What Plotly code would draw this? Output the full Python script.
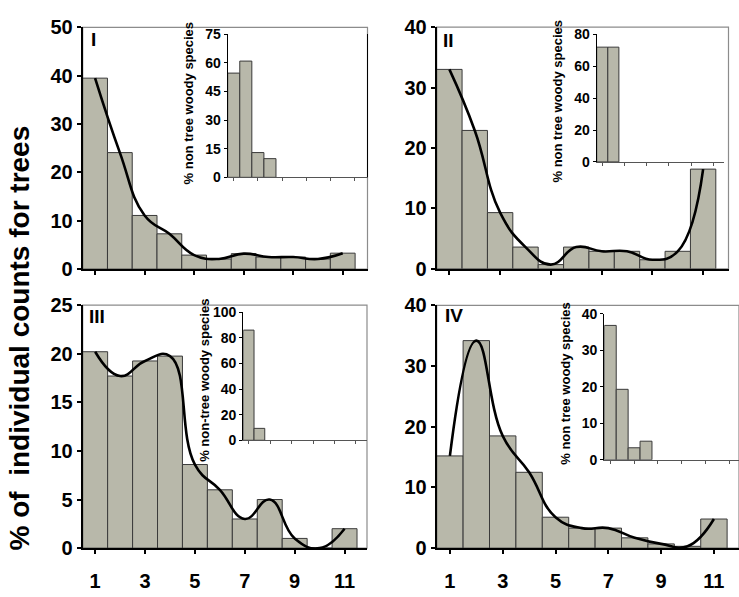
import plotly.graph_objects as go

W, H = 739, 597

categories = list(range(1, 12))
tick_vals = [1, 3, 5, 7, 9, 11]

# main panels: % of individual counts for trees
panel_I = [39.5, 24.1, 11.1, 7.3, 2.9, 2.1, 3.2, 2.5, 2.5, 2.1, 3.3]
panel_II = [33.0, 22.9, 9.3, 3.6, 0.7, 3.6, 2.9, 2.9, 1.5, 2.9, 16.5]
panel_III = [20.2, 17.7, 19.25, 19.75, 8.6, 6.0, 3.0, 5.0, 1.0, 0.0, 2.0]
panel_IV = [15.2, 34.2, 18.5, 12.5, 5.1, 3.3, 3.3, 1.7, 0.7, 0.3, 4.8]

# insets: % non tree woody species
inset_I_cats = [1, 2, 3, 4]
inset_I = [54.7, 61.0, 13.0, 9.8]
inset_II_cats = [1, 2]
inset_II = [72.0, 72.0]
inset_III_cats = [1, 2]
inset_III = [86.0, 9.3]
inset_IV_cats = [1, 2, 3, 4]
inset_IV = [36.8, 19.3, 3.3, 5.1]

BAR = "#b8b8aa"
EDGE = "#3a3a3a"
FONT = "Liberation Sans"


def px_x(x):
    return x / W


def px_y(y):
    return 1 - y / H


fig = go.Figure()

mains = [
    ("", panel_I, (82.7, 367.5), (17.0, 268.0), [0.5, 12.0], [0, 50], 10, False),
    ("2", panel_II, (436.7, 728.5), (16.7, 267.7), [0.5, 12.0], [0, 40], 10, False),
    ("3", panel_III, (82.7, 367.0), (305.3, 557.7), [0.5, 11.9], [0, 25], 5, True),
    ("4", panel_IV, (436.7, 739.0), (305.7, 557.7), [0.5, 11.95], [0, 40], 10, True),
]
insets = [
    ("5", inset_I_cats, inset_I, (227.7, 366.5), (24.3, 172.7), [0.5, 12.0], [0, 75], 15, True),
    ("6", inset_II_cats, inset_II, (596.7, 724.3), (24.3, 156.7), [0.5, 12.0], [0, 80], 20, False),
    ("7", inset_III_cats, inset_III, (243.3, 366.7), (312.7, 445.7), [0.5, 12.0], [0, 100], 20, False),
    ("8", inset_IV_cats, inset_IV, (604.3, 739.0), (314.3, 466.0), [0.5, 11.8], [0, 40], 10, False),
]

layout = dict(
    width=W, height=H, margin=dict(l=0, r=0, t=0, b=0),
    paper_bgcolor="white", plot_bgcolor="rgba(0,0,0,0)",
    showlegend=False,
    font=dict(family=FONT, color="black"),
)
shapes = []

for key, vals, (x0, x1), (yt, yb), xr, yr, dt, labels in mains:
    xa, ya = "x" + key, "y" + key
    fig.add_trace(go.Bar(x=categories, y=vals, width=1, xaxis=xa, yaxis=ya,
                         marker=dict(color=BAR, line=dict(color=EDGE, width=1))))
    fig.add_trace(go.Scatter(x=categories, y=vals, mode="lines", xaxis=xa, yaxis=ya,
                             line=dict(color="black", width=2.6, shape="spline", smoothing=1.3)))
    layout["xaxis" + key] = dict(
        domain=[px_x(x0), px_x(x1)], range=xr, anchor=ya,
        showline=True, linecolor="black", linewidth=2, showgrid=False, zeroline=False,
        tickmode="array", tickvals=tick_vals, ticks="outside", ticklen=4, tickwidth=1.5,
        tickcolor="black", showticklabels=labels, ticklabelstandoff=10,
        tickfont=dict(family=FONT, size=20, weight="bold", color="black"),
    )
    layout["yaxis" + key] = dict(
        domain=[px_y(yb), px_y(yt)], range=yr, anchor=xa,
        showline=True, linecolor="black", linewidth=2, showgrid=False, zeroline=False,
        dtick=dt, tick0=0, ticks="outside", ticklen=4, tickwidth=1.5, tickcolor="black",
        tickfont=dict(family=FONT, size=20, weight="bold", color="black"),
    )
    shapes.append(dict(type="rect", xref=xa + " domain", yref=ya + " domain",
                       x0=0, x1=1, y0=0, y1=1, line=dict(color="#8c8c8c", width=1.2),
                       layer="below"))

for key, cats, vals, (x0, x1), (yt, yb), xr, yr, dt, rightline in insets:
    xa, ya = "x" + key, "y" + key
    fig.add_trace(go.Bar(x=cats, y=vals, width=1, xaxis=xa, yaxis=ya,
                         marker=dict(color=BAR, line=dict(color=EDGE, width=1))))
    layout["xaxis" + key] = dict(
        domain=[px_x(x0), px_x(x1)], range=xr, anchor=ya,
        showline=True, linecolor="#555555", linewidth=1.2, showgrid=False, zeroline=False,
        tickmode="array", tickvals=tick_vals, ticks="outside", ticklen=3, tickwidth=1,
        tickcolor="#555555", showticklabels=False,
    )
    layout["yaxis" + key] = dict(
        domain=[px_y(yb), px_y(yt)], range=yr, anchor=xa,
        showline=True, linecolor="black", linewidth=1.2, showgrid=False, zeroline=False,
        mirror=rightline,
        dtick=dt, tick0=0, ticks="outside", ticklen=3, tickwidth=1, tickcolor="black",
        tickfont=dict(family=FONT, size=14, weight="bold", color="black"),
    )

annotations = []
annotations.append(dict(text="% of  individual counts for trees", x=px_x(19), y=px_y(340),
                        xref="paper", yref="paper", showarrow=False, textangle=-90,
                        xanchor="center", yanchor="middle",
                        font=dict(family=FONT, size=28, weight="bold", color="black")))
for txt, cx, cy in [("% non tree woody species", 188, 96),
                    ("% non tree woody species", 558, 94),
                    ("% non-tree woody species", 205, 384),
                    ("% non tree woody species", 566, 387)]:
    annotations.append(dict(text=txt, x=px_x(cx), y=px_y(cy), xref="paper", yref="paper",
                            showarrow=False, textangle=-90, xanchor="center", yanchor="middle",
                            font=dict(family=FONT, size=13, weight="bold", color="black")))
for txt, cx, cy in [("I", 93.5, 30), ("II", 448, 31), ("III", 97, 317), ("IV", 454, 316)]:
    annotations.append(dict(text=txt, x=px_x(cx), y=px_y(cy), xref="paper", yref="paper",
                            showarrow=False, xanchor="center", yanchor="middle",
                            font=dict(family=FONT, size=19, weight="bold", color="black")))

layout["shapes"] = shapes
layout["annotations"] = annotations
fig.update_layout(**layout)
fig.write_html("out.html")
